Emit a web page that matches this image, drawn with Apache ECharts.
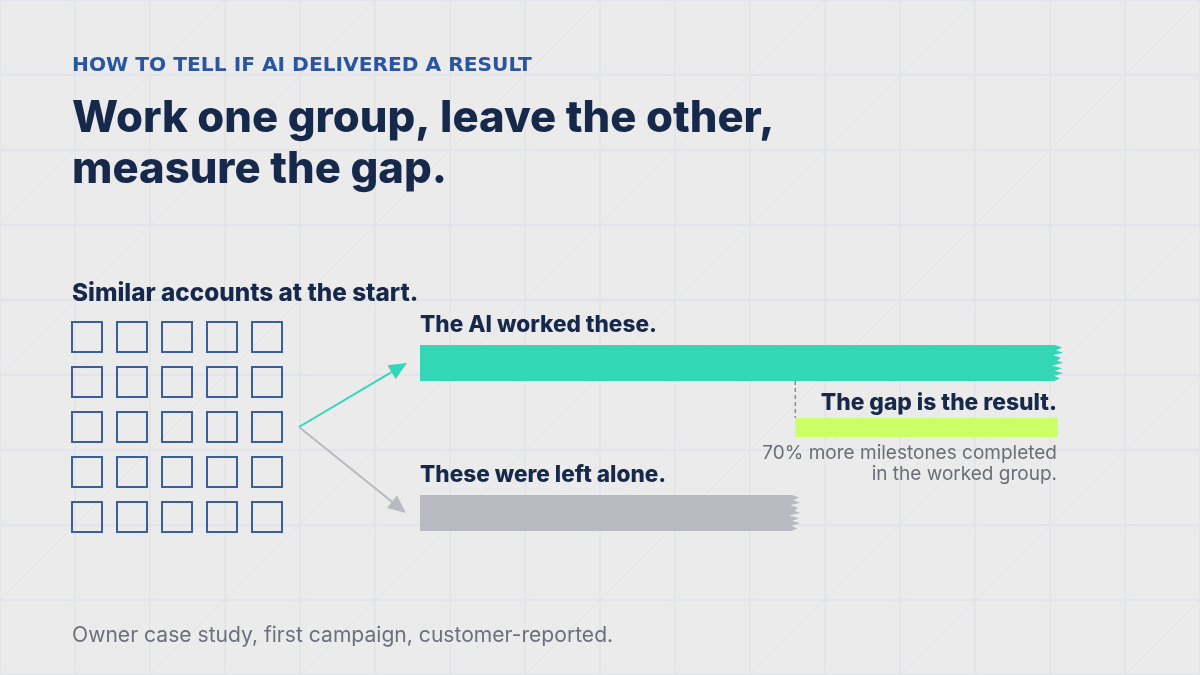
<!DOCTYPE html>
<html>
<head>
<meta charset="utf-8">
<script src="https://cdn.jsdelivr.net/npm/echarts@6/dist/echarts.min.js"></script>
<style>
  html, body { margin: 0; padding: 0; background: #ebebeb; }
  #chart { width: 1200px; height: 675px; }
</style>
</head>
<body>
<div id="chart"></div>
<script>
// values (worked group is 70% above the untouched one)
const groups = ['The AI worked these.', 'These were left alone.'];
const milestones = [170, 100];
const accountCols = ['1', '2', '3', '4', '5'];
const accountRows = ['1', '2', '3', '4', '5'];

const kicker = 'HOW TO TELL IF AI DELIVERED A RESULT';
const headline = ['Work one group, leave the other,', 'measure the gap.'];
const startLabel = 'Similar accounts at the start.';
const gapLabel = 'The gap is the result.';
const gapNote = ['70% more milestones completed', 'in the worked group.'];
const footnote = 'Owner case study, first campaign, customer-reported.';

const NAVY = '#16294a';
const SANS = 'Inter, "Noto Sans", sans-serif';
const WIDE = '"DejaVu Sans", sans-serif';
const HEAVY = 800;
const barColors = ['#33d6b6', '#b9b9c2'];

// size a font so the string spans the width it has in the reference
const ctx = document.createElement('canvas').getContext('2d');
function fit(text, weight, family, width) {
  ctx.font = weight + ' 100px ' + family;
  return +(100 * width / ctx.measureText(text).width).toFixed(1);
}

const kickerSize = fit(kicker, 'bold', WIDE, 459);
const headSize = fit(headline[0], HEAVY, SANS, 703);
const startSize = fit(startLabel, HEAVY, SANS, 346);
const groupSize = fit(groups[0], HEAVY, SANS, 237);
const gapSize = fit(gapLabel, HEAVY, SANS, 236);
const noteSize = fit(gapNote[0], 'normal', SANS, 295);
const footSize = fit(footnote, 'normal', SANS, 541);

function txt(text, x, baseline, size, extra) {
  return {
    type: 'text', x: x, y: baseline - 0.3 * size, silent: true,
    style: Object.assign({
      text: text, fontFamily: SANS, fontSize: size, fontWeight: HEAVY,
      fill: NAVY, align: 'left', verticalAlign: 'middle'
    }, extra)
  };
}

function arrow(x1, y1, x2, y2, color) {
  const dx = x2 - x1, dy = y2 - y1;
  const len = Math.sqrt(dx * dx + dy * dy);
  const ux = dx / len, uy = dy / len;
  const bx = x2 - ux * 18, by = y2 - uy * 18;
  return [
    { type: 'line', silent: true, shape: { x1: x1, y1: y1, x2: bx, y2: by },
      style: { stroke: color, lineWidth: 2 } },
    { type: 'polygon', silent: true,
      shape: { points: [[x2, y2], [bx - uy * 8, by + ux * 8], [bx + uy * 8, by - ux * 8]] },
      style: { fill: color } }
  ];
}

// paper background: square grid plus one diagonal per cell
const background = [{ type: 'rect', z: -10, silent: true, shape: { x: 0, y: 0, width: 1200, height: 675 }, style: { fill: '#ebebeb' } }];
for (let x = 0; x <= 1200; x += 75) {
  background.push({ type: 'line', z: -9, silent: true, shape: { x1: x, y1: 0, x2: x, y2: 675 }, style: { stroke: '#e1e2e8', lineWidth: 1.3 } });
}
for (let y = 0; y <= 675; y += 75) {
  background.push({ type: 'line', z: -9, silent: true, shape: { x1: 0, y1: y, x2: 1200, y2: y }, style: { stroke: '#e1e2e8', lineWidth: 1.3 } });
}
for (let k = 0; k <= 1875; k += 75) {
  background.push({ type: 'line', z: -9, silent: true, shape: { x1: k, y1: 0, x2: k - 675, y2: 675 }, style: { stroke: '#dcdde1', lineWidth: 0.6 } });
}

// torn right edge of a bar
function torn(x0, x1, top, h) {
  const jag = [4, -2, 5, -5, 3, -1, 5, -6, 4, -3, 5, -4, 2];
  const pts = [[x0, top], [x1 - 3, top]];
  jag.forEach(function (d, i) { pts.push([x1 + d, top + h * (i + 1) / (jag.length + 1)]); });
  pts.push([x1 - 4, top + h], [x0, top + h]);
  return pts;
}

const accounts = [];
accountRows.forEach(function (r, j) {
  accountCols.forEach(function (c, i) { accounts.push([i, j]); });
});

const chart = echarts.init(document.getElementById('chart'));
chart.setOption({
  backgroundColor: '#ebebeb',
  animation: false,
  grid: [
    { left: 420, right: 142, top: 288, height: 300 },
    { left: 64.5, top: 314.5, width: 225, height: 225 }
  ],
  xAxis: [
    { type: 'value', gridIndex: 0, min: 0, max: 170, show: false },
    { type: 'category', gridIndex: 1, data: accountCols, show: false }
  ],
  yAxis: [
    { type: 'category', gridIndex: 0, data: groups, inverse: true, show: false },
    { type: 'category', gridIndex: 1, data: accountRows, inverse: true, show: false }
  ],
  graphic: {
    elements: background.concat(
      [
        txt(kicker, 72, 71.7, kickerSize, { fontFamily: WIDE, fontWeight: 'bold', fill: '#2a55a0' }),
        txt(headline[0], 72, 131.7, headSize),
        txt(headline[1], 72, 182.7, headSize),
        txt(startLabel, 72, 301, startSize),
        txt(footnote, 72, 641.7, footSize, { fontWeight: 'normal', fill: '#6c707c' })
      ],
      arrow(299, 427, 407, 363, '#33d6b6'),
      arrow(299, 427, 406, 513, '#b9b9c2')
    )
  },
  series: [
    {
      type: 'scatter',
      xAxisIndex: 1, yAxisIndex: 1,
      symbol: 'rect', symbolSize: 30, silent: true,
      itemStyle: { color: 'rgba(0,0,0,0)', borderColor: '#3b5f9d', borderWidth: 2, opacity: 1 },
      data: accounts
    },
    {
      type: 'custom',
      xAxisIndex: 0, yAxisIndex: 0, silent: true,
      data: milestones.map(function (v, i) { return [v, i]; }),
      renderItem: function (params, api) {
        const i = api.value(1);
        const start = api.coord([0, i]);
        const end = api.coord([api.value(0), i]);
        const top = start[1] - 18;
        return {
          type: 'group',
          children: [
            { type: 'polygon', shape: { points: torn(start[0], end[0], top, 36) }, style: { fill: barColors[i] } },
            txt(groups[i], start[0], top - 13, groupSize)
          ]
        };
      }
    },
    {
      type: 'custom',
      xAxisIndex: 0, yAxisIndex: 0, silent: true,
      data: [[milestones[1], milestones[0]]],
      renderItem: function (params, api) {
        const a = api.coord([api.value(0), 0]);
        const b = api.coord([api.value(1), 0]);
        const barBottom = a[1] + 18;
        const gapTop = barBottom + 37;
        return {
          type: 'group',
          children: [
            { type: 'line', shape: { x1: a[0], y1: barBottom, x2: a[0], y2: gapTop },
              style: { stroke: '#8a8d96', lineWidth: 1.5, lineDash: [4, 3] } },
            { type: 'rect', shape: { x: a[0], y: gapTop, width: b[0] - a[0], height: 19 },
              style: { fill: '#ccff66' } },
            txt(gapLabel, b[0] - 1, gapTop - 8, gapSize, { align: 'right' }),
            txt(gapNote[0], b[0] - 1, gapTop + 41.3, noteSize, { align: 'right', fontWeight: 'normal', fill: '#6b6e79' }),
            txt(gapNote[1], b[0] - 1, gapTop + 62, noteSize, { align: 'right', fontWeight: 'normal', fill: '#6b6e79' })
          ]
        };
      }
    }
  ]
});
</script>
</body>
</html>
